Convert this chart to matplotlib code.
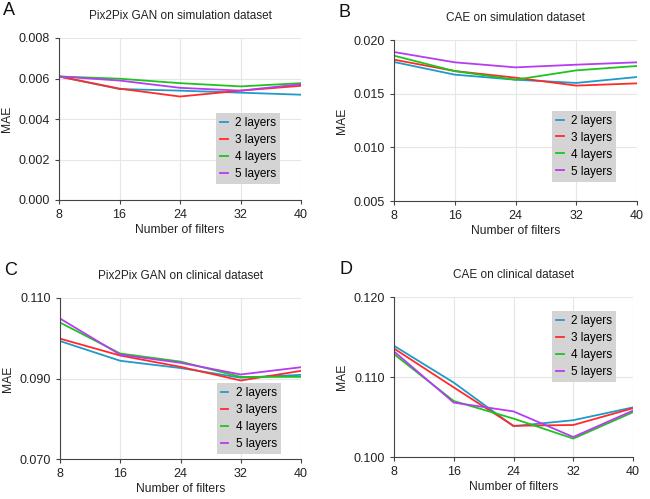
import matplotlib
matplotlib.use("Agg")
import matplotlib.pyplot as plt

plt.rcParams["font.family"] = ["Liberation Sans", "DejaVu Sans"]

filters = [8, 16, 24, 32, 40]
labels = ["2 layers", "3 layers", "4 layers", "5 layers"]
colors = ["#1f9ac9", "#ff2b2b", "#1ec41e", "#b63cf0"]

# A: Pix2Pix GAN on simulation dataset
a_2 = [0.0061, 0.00548, 0.0054, 0.0053, 0.0052]
a_3 = [0.0061, 0.0055, 0.00511, 0.0054, 0.00564]
a_4 = [0.0061, 0.00599, 0.00577, 0.00561, 0.00577]
a_5 = [0.0061, 0.0059, 0.00554, 0.0054, 0.00572]

# B: CAE on simulation dataset
b_2 = [0.01795, 0.01677, 0.0163, 0.0160, 0.01655]
b_3 = [0.01817, 0.01711, 0.01649, 0.01575, 0.01596]
b_4 = [0.01854, 0.0171, 0.0163, 0.01717, 0.01758]
b_5 = [0.01888, 0.01792, 0.01745, 0.0177, 0.01792]

# C: Pix2Pix GAN on clinical dataset
c_2 = [0.0993, 0.0944, 0.0926, 0.0902, 0.0909]
c_3 = [0.0999, 0.0957, 0.0929, 0.0895, 0.0919]
c_4 = [0.1039, 0.0962, 0.0942, 0.0904, 0.0904]
c_5 = [0.1049, 0.0959, 0.0939, 0.0910, 0.0928]

# D: CAE on clinical dataset
d_2 = [0.1139, 0.1093, 0.10385, 0.1046, 0.1062]
d_3 = [0.11356, 0.1087, 0.1039, 0.1040, 0.1061]
d_4 = [0.11285, 0.1070, 0.1048, 0.1023, 0.1056]
d_5 = [0.1132, 0.1068, 0.1057, 0.1025, 0.1058]

panels = [
    ("A", "Pix2Pix GAN on simulation dataset", [a_2, a_3, a_4, a_5],
     [0, 0.002, 0.004, 0.006, 0.008], [59, 38, 301, 200], (0.65, 0.10)),
    ("B", "CAE on simulation dataset", [b_2, b_3, b_4, b_5],
     [0.005, 0.010, 0.015, 0.020], [394, 40, 637, 201], (0.65, 0.12)),
    ("C", "Pix2Pix GAN on clinical dataset", [c_2, c_3, c_4, c_5],
     [0.070, 0.090, 0.110], [60, 298, 301, 459], (0.65, 0.03)),
    ("D", "CAE on clinical dataset", [d_2, d_3, d_4, d_5],
     [0.100, 0.110, 0.120], [394, 297, 633, 457], (0.66, 0.47)),
]

W, H = 650, 499
fig = plt.figure(figsize=(6.5, 4.99), dpi=100)

for letter, title, series, yt, box, leg in panels:
    x0, y0, x1, y1 = box
    ax = fig.add_axes([x0 / W, 1 - y1 / H, (x1 - x0) / W, (y1 - y0) / H])
    for vals, lab, col in zip(series, labels, colors):
        ax.plot(filters, vals, color=col, lw=1.3, label=lab)
    ax.set_xlim(8, 40)
    ax.set_ylim(yt[0], yt[-1])
    ax.set_xticks(filters)
    ax.set_yticks(yt)
    ax.set_yticklabels(["{:.3f}".format(v) for v in yt])
    ax.grid(True, color="#e6e6e6", lw=0.8)
    ax.set_axisbelow(True)
    for s in ["top", "right"]:
        ax.spines[s].set_visible(False)
    for s in ["left", "bottom"]:
        ax.spines[s].set_color("#444444")
        ax.spines[s].set_linewidth(0.8)
    ax.tick_params(colors="#444444", labelcolor="#222222", labelsize=9,
                   length=3, width=0.8)
    ax.set_xlabel("Number of filters", fontsize=8.7, color="#222222", labelpad=2)
    ax.set_ylabel("MAE", fontsize=8.7, color="#222222", labelpad=4)
    ax.set_title(title, fontsize=8.5, color="#222222", pad=14)
    ax.text(-0.23, 1.17, letter, transform=ax.transAxes, fontsize=13,
            color="#111111", va="center", ha="left")
    lg = ax.legend(loc="lower left", bbox_to_anchor=leg, fontsize=8.5,
                   frameon=True, fancybox=False, handlelength=0.65,
                   handletextpad=0.6, borderpad=0.35, labelspacing=0.42,
                   borderaxespad=0)
    lg.get_frame().set_facecolor("#d4d4d4")
    lg.get_frame().set_edgecolor("none")
    lg.get_frame().set_alpha(1)

fig.savefig("out.png", dpi=100)
